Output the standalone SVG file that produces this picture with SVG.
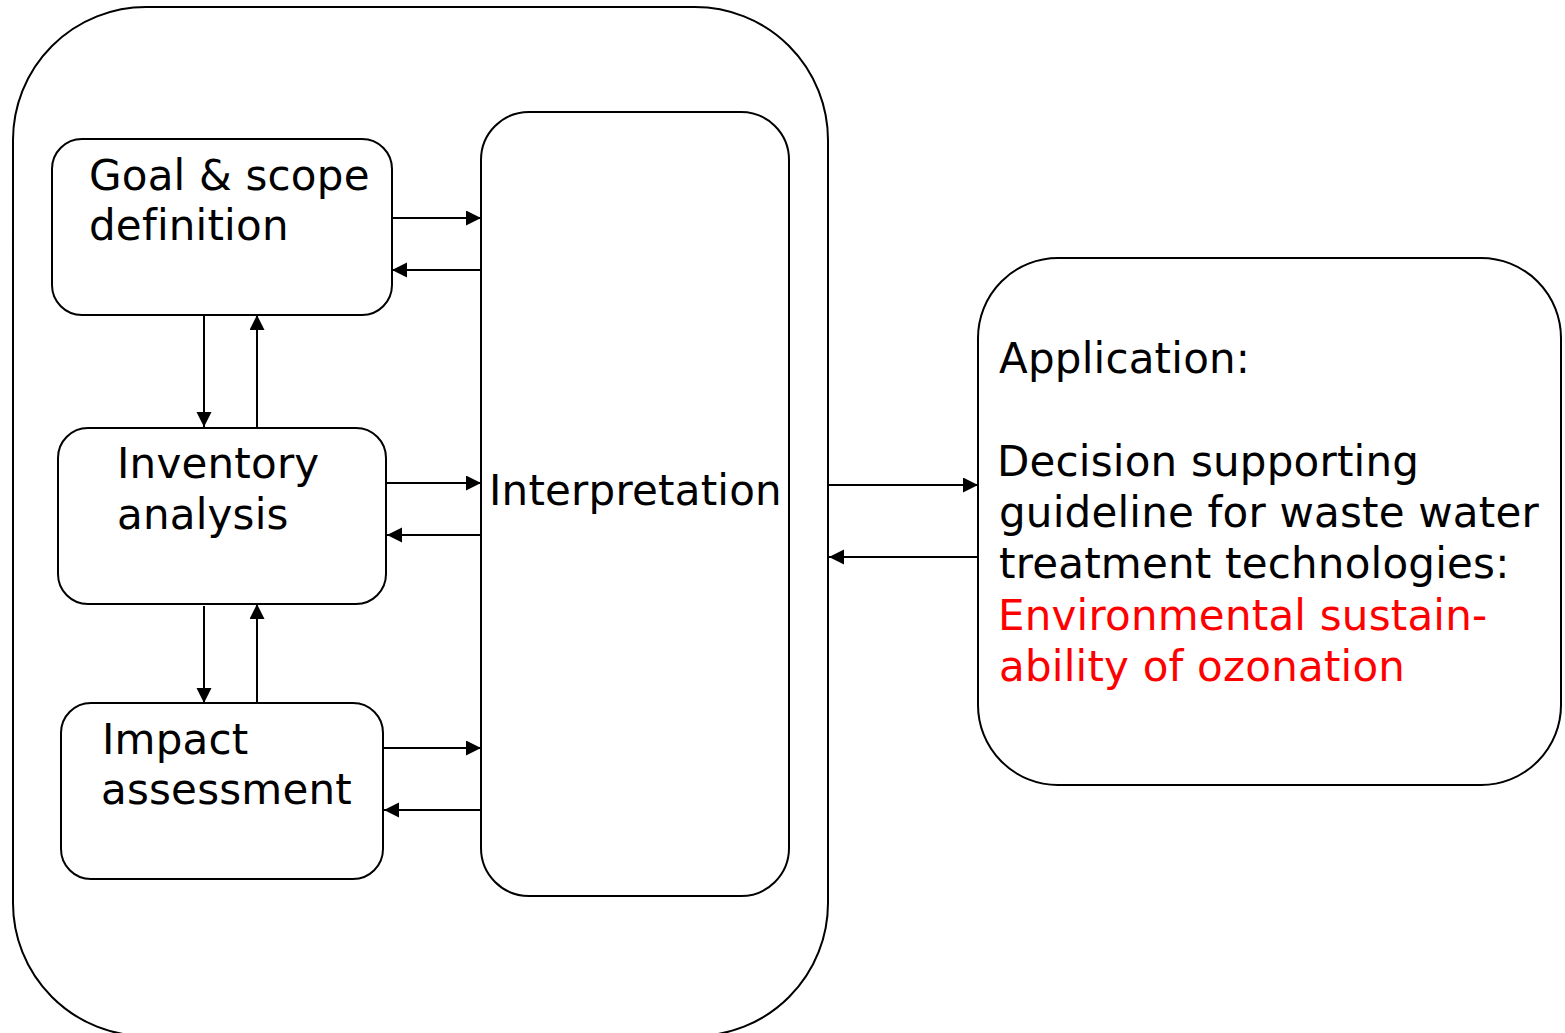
<svg xmlns="http://www.w3.org/2000/svg" width="1565" height="1033" viewBox="0 0 1565 1033">
  <style>
    .box { fill: #ffffff; stroke: #000000; stroke-width: 2; }
    .frame { fill: none; stroke: #000000; stroke-width: 2; }
    .label { font-family: "DejaVu Sans", Verdana, sans-serif; font-size: 42px; letter-spacing: 0.2px; fill: #000000; }
    .accent { fill: #ff0000; }
    .conn { stroke: #000000; stroke-width: 2; fill: none; marker-end: url(#arrow); }
  </style>
  <defs>
    <marker id="arrow" markerUnits="userSpaceOnUse" markerWidth="16" markerHeight="16" refX="15" refY="7.5" orient="auto">
      <path d="M0,0 L15,7.5 L0,15 Z" fill="#000000"/>
    </marker>
  </defs>

  <rect width="1565" height="1033" fill="#ffffff"/>

  <!-- LCA framework enclosure -->
  <g id="framework">
    <rect class="frame" x="13" y="7" width="815" height="1029" rx="133" ry="133"/>
  </g>

  <g id="goal-scope">
    <rect class="box" x="52" y="139" width="340" height="176" rx="30" ry="30"/>
    <text class="label" x="89" y="190">Goal &amp; scope</text>
    <text class="label" x="89" y="240">definition</text>
  </g>

  <g id="inventory">
    <rect class="box" x="58" y="428" width="328" height="176" rx="30" ry="30"/>
    <text class="label" x="117" y="478">Inventory</text>
    <text class="label" x="117" y="529">analysis</text>
  </g>

  <g id="impact">
    <rect class="box" x="61" y="703" width="322" height="176" rx="30" ry="30"/>
    <text class="label" x="102" y="754">Impact</text>
    <text class="label" x="101" y="804">assessment</text>
  </g>

  <g id="interpretation">
    <rect class="box" x="481" y="112" width="308" height="784" rx="48" ry="48"/>
    <text class="label" x="489" y="505">Interpretation</text>
  </g>

  <g id="application">
    <rect class="box" x="978" y="258" width="583" height="527" rx="80" ry="80"/>
    <text class="label" x="999" y="373">Application:</text>
    <text class="label" x="997" y="476">Decision supporting</text>
    <text class="label" x="999" y="527">guideline for waste water</text>
    <text class="label" x="999" y="578">treatment technologies:</text>
    <text class="label accent" x="998" y="630">Environmental sustain-</text>
    <text class="label accent" x="999" y="681">ability of ozonation</text>
  </g>

  <!-- connectors -->
  <g id="connectors">
    <line class="conn" x1="392" y1="218" x2="481" y2="218"/>
    <line class="conn" x1="481" y1="270" x2="392" y2="270"/>
    <line class="conn" x1="204" y1="315" x2="204" y2="427"/>
    <line class="conn" x1="257" y1="427" x2="257" y2="315"/>
    <line class="conn" x1="386" y1="483" x2="481" y2="483"/>
    <line class="conn" x1="481" y1="535" x2="387" y2="535"/>
    <line class="conn" x1="204" y1="606" x2="204" y2="703"/>
    <line class="conn" x1="257" y1="703" x2="257" y2="604"/>
    <line class="conn" x1="383" y1="748" x2="481" y2="748"/>
    <line class="conn" x1="481" y1="810" x2="384" y2="810"/>
    <line class="conn" x1="829" y1="485" x2="978" y2="485"/>
    <line class="conn" x1="978" y1="557" x2="829" y2="557"/>
  </g>
</svg>
